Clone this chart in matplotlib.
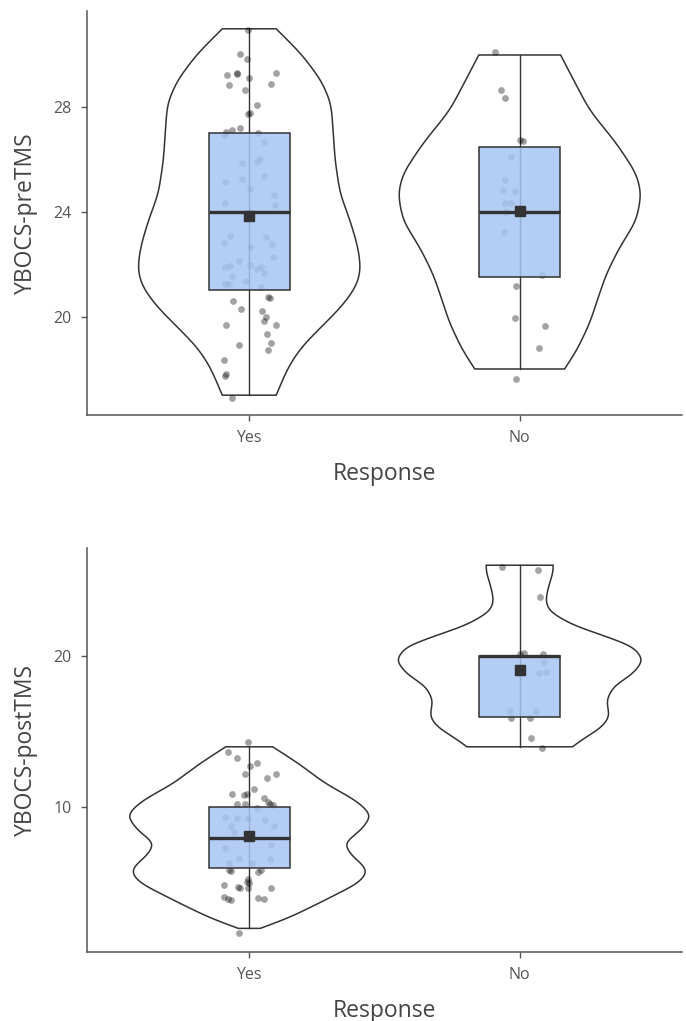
import numpy as np
import matplotlib
matplotlib.use("Agg")
import matplotlib.pyplot as plt

plt.rcParams['font.family'] = ['Open Sans', 'DejaVu Sans']

groups = ["Yes", "No"]

# ---- YBOCS pre TMS ----
pre_yes_y = [30.95, 30.02, 29.84, 29.25, 29.31, 29.29, 29.12, 29.33, 28.84, 28.68, 28.88, 28.08,
             27.73, 27.78, 27.05, 27.12, 27.21, 27.03, 26.93, 26.67, 26.03, 25.90, 25.87, 25.16,
             25.27, 25.39, 24.89, 24.66, 24.33, 24.25, 23.10, 22.80, 23.03, 22.78, 22.67, 22.29,
             22.14, 21.99, 21.89, 21.92, 21.83, 21.89, 21.65, 21.56, 21.37, 21.26, 21.23, 21.15,
             20.74, 20.70, 20.61, 20.29, 20.23, 19.97, 19.82, 19.69, 19.68, 19.33, 19.01, 18.92,
             18.73, 18.33, 17.73, 17.82, 16.90]
pre_yes_dx = [-0.003, -0.036, -0.008, -0.082, -0.045, -0.047, 0.0, 0.098, -0.076, -0.015, 0.081, 0.028,
              -0.005, 0.004, -0.085, -0.064, -0.036, 0.034, -0.095, 0.053, 0.041, 0.028, -0.027, -0.091,
              -0.027, 0.056, 0.001, 0.090, -0.091, 0.096, -0.070, -0.095, 0.063, 0.084, 0.004, 0.087,
              -0.039, 0.004, -0.089, -0.073, 0.028, 0.044, 0.055, -0.062, -0.011, -0.091, -0.076, 0.044,
              0.071, 0.075, -0.060, -0.030, 0.047, 0.063, 0.056, -0.086, 0.100, 0.065, 0.081, -0.037,
              0.069, -0.092, -0.091, -0.086, -0.064]
pre_no_y = [30.12, 28.65, 28.37, 26.77, 26.71, 26.12, 25.24, 24.85, 24.82, 24.35, 24.35, 23.99,
            23.22, 21.59, 21.18, 19.94, 19.66, 18.80, 17.60]
pre_no_dx = [-0.092, -0.070, -0.053, 0.0, 0.012, -0.031, -0.053, -0.062, -0.018, -0.053, -0.031, -0.049,
             -0.058, 0.084, -0.012, -0.016, 0.092, 0.070, -0.012]

# ---- YBOCS post TMS ----
post_yes_y = [14.30, 13.64, 13.24, 12.75, 12.91, 12.20, 12.20, 11.96, 11.19, 10.90, 10.81, 10.90,
              10.64, 10.37, 10.20, 10.20, 10.20, 10.15, 9.93, 9.38, 9.31, 8.78, 9.27, 9.16, 8.78,
              8.39, 7.29, 7.51, 6.63, 6.34, 6.34, 6.58, 5.86, 5.79, 5.70, 5.86, 5.26, 5.08, 4.86,
              4.98, 4.75, 4.65, 4.65, 4.69, 4.05, 3.94, 3.87, 3.99, 3.92, 1.71]
post_yes_dx = [-0.005, -0.079, -0.045, 0.004, 0.028, -0.015, 0.100, 0.065, 0.016, -0.064, -0.021, -0.008,
               0.053, 0.069, -0.045, -0.015, 0.077, 0.086, 0.028, -0.089, -0.045, -0.066, -0.003, 0.059, 0.090,
               -0.058, -0.089, 0.081, -0.039, -0.076, 0.010, 0.077, -0.076, -0.066, 0.032, 0.044, -0.003, -0.008,
               -0.095, 0.0, -0.042, -0.033, -0.003, 0.081, -0.095, -0.079, -0.066, 0.034, 0.056, -0.039]
post_no_y = [25.86, 25.68, 23.92, 20.11, 20.18, 20.11, 19.62, 18.86, 18.92, 16.36, 16.36, 15.92,
             15.88, 14.60, 13.94]
post_no_dx = [-0.064, 0.068, 0.074, 0.0, 0.016, 0.086, 0.089, 0.070, 0.096, -0.037, 0.059, -0.031,
              0.039, 0.041, 0.084]

# box stats: min, q1, median, q3, max, mean
pre_stats = {"Yes": [17, 21, 24, 27, 31, 23.85], "No": [18, 21.5, 24, 26.5, 30, 24.05]}
post_stats = {"Yes": [2, 6, 8, 10, 14, 8.1], "No": [14, 16, 20, 20, 26, 19.07]}

# violin density profiles (value, relative density)
pre_yes_vals = [17.0, 18.07, 18.83, 19.60, 20.36, 21.12, 21.77, 22.65, 23.68, 24.71, 25.98, 27.13, 28.16, 29.04, 30.05, 31.0]
pre_yes_dens = [0.27, 0.39, 0.52, 0.72, 0.92, 1.07, 1.12, 1.09, 1.01, 0.91, 0.86, 0.84, 0.82, 0.72, 0.52, 0.27]
pre_no_vals = [18.0, 18.70, 19.73, 20.88, 21.65, 22.64, 23.67, 24.70, 25.47, 26.62, 27.89, 28.9, 30.0]
pre_no_dens = [0.45, 0.57, 0.70, 0.80, 0.87, 1.00, 1.17, 1.22, 1.17, 0.97, 0.70, 0.56, 0.41]
post_yes_vals = [2.0, 2.11, 2.77, 3.87, 4.98, 5.64, 6.07, 6.85, 7.62, 8.50, 9.38, 9.82, 10.48, 11.59, 12.91, 14.0]
post_yes_dens = [0.11, 0.16, 0.42, 0.76, 1.09, 1.18, 1.16, 1.02, 0.95, 1.12, 1.22, 1.18, 1.06, 0.76, 0.49, 0.235]
post_no_vals = [14.0, 14.23, 15.33, 15.99, 17.09, 17.98, 18.86, 19.74, 20.62, 21.28, 22.05, 22.93, 23.59, 24.36, 25.68, 26.0]
post_no_dens = [0.53, 0.57, 0.83, 0.90, 0.87, 0.94, 1.14, 1.24, 1.14, 0.87, 0.53, 0.30, 0.26, 0.28, 0.34, 0.335]

VSCALE = 0.369
BOXW = 0.30
LINE = '#333333'
BOXFILL = '#a6c5f3'


def smooth_profile(vals, dens, sigma):
    # linear interpolation on a fine grid, then a light gaussian smoothing
    yy = np.linspace(vals[0], vals[-1], 600)
    ww = np.interp(yy, vals, dens)
    step = yy[1] - yy[0]
    k = int(3 * sigma / step)
    kern = np.exp(-0.5 * (np.arange(-k, k + 1) * step / sigma) ** 2)
    kern /= kern.sum()
    padded = np.pad(ww, k, mode='reflect', reflect_type='odd')
    ww = np.convolve(padded, kern, mode='valid')
    return yy, np.clip(ww, 0.02, None)


def panel(ax, violins, points, stats, ylabel, ylim, yticks, sigma):
    for i, g in enumerate(groups):
        x0 = i + 1
        vals, dens = violins[g]
        yy, ww = smooth_profile(vals, dens, sigma)
        ww = ww * VSCALE
        ax.fill(np.concatenate([x0 - ww, (x0 + ww)[::-1]]), np.concatenate([yy, yy[::-1]]),
                facecolor='white', edgecolor=LINE, lw=1.1, zorder=1)
        lo, q1, med, q3, hi, mean = stats[g]
        ax.plot([x0, x0], [lo, hi], color=LINE, lw=1.0, zorder=2)
        py, pdx = points[g]
        ax.scatter(x0 + np.array(pdx), py, s=24, color='black', alpha=0.36, lw=0, zorder=3)
        ax.add_patch(plt.Rectangle((x0 - BOXW / 2, q1), BOXW, q3 - q1, facecolor=BOXFILL,
                                   edgecolor='none', alpha=0.85, zorder=4))
        ax.add_patch(plt.Rectangle((x0 - BOXW / 2, q1), BOXW, q3 - q1, facecolor='none',
                                   edgecolor=LINE, lw=1.1, zorder=4))
        ax.plot([x0 - BOXW / 2, x0 + BOXW / 2], [med, med], color=LINE, lw=2.4, zorder=5,
                solid_capstyle='butt')
        ax.plot([x0], [mean], marker='s', ms=7.5, color=LINE, zorder=6)
    ax.set_xlim(0.4, 2.6)
    ax.set_ylim(*ylim)
    ax.set_xticks([1, 2])
    ax.set_xticklabels(groups)
    ax.set_yticks(yticks)
    for s in ['top', 'right']:
        ax.spines[s].set_visible(False)
    for s in ['left', 'bottom']:
        ax.spines[s].set_color('#555555')
        ax.spines[s].set_linewidth(1.1)
    ax.tick_params(length=4, width=1, color='#555555', labelcolor='#555555', labelsize=11.5, pad=7)
    ax.set_xlabel("Response", fontsize=16.5, color='#444444', labelpad=11)
    ax.set_ylabel(ylabel, fontsize=16.5, color='#444444', labelpad=11)


fig = plt.figure(figsize=(6.86, 10.21), dpi=100)
ax1 = fig.add_axes([0.1268, 0.5935, 0.8673, 0.3957])
ax2 = fig.add_axes([0.1268, 0.0676, 0.8673, 0.3957])

panel(ax1,
      {"Yes": (pre_yes_vals, pre_yes_dens), "No": (pre_no_vals, pre_no_dens)},
      {"Yes": (pre_yes_y, pre_yes_dx), "No": (pre_no_y, pre_no_dx)},
      pre_stats, "YBOCS-preTMS", (16.24, 31.68), [20, 24, 28], 0.3)
panel(ax2,
      {"Yes": (post_yes_vals, post_yes_dens), "No": (post_no_vals, post_no_dens)},
      {"Yes": (post_yes_y, post_yes_dx), "No": (post_no_y, post_no_dx)},
      post_stats, "YBOCS-postTMS", (0.44, 27.14), [10, 20], 0.28)

fig.savefig("out.png", dpi=100)
